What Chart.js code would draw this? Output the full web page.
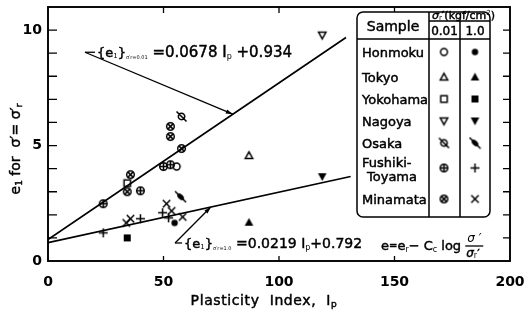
<!DOCTYPE html>
<html>
<head>
<meta charset="utf-8">
<script src="https://cdn.jsdelivr.net/npm/chart.js@4.4.1/dist/chart.umd.min.js"></script>
<style>
  html, body { margin: 0; background: #fff; }
  #wrap { width: 528px; height: 323px; }
</style>
</head>
<body>
<div id="wrap"><canvas id="chart"></canvas></div>
<script>
// e1 for sigma' = sigma'r against plasticity index, two consolidation pressures
const honmoku001 = [[55.7, 4.09]];
const honmoku10 = [[54.8, 1.65]];
const tokyo001 = [[87, 4.57]];
const tokyo10 = [[87, 1.68]];
const yokohama001 = [[34.3, 3.37]];
const yokohama10 = [[34.3, 1.0]];
const nagoya001 = [[118.7, 9.78]];
const nagoya10 = [[118.7, 3.65]];
const osaka001 = [[57.8, 6.26]];
const osaka10 = [[57.4, 2.78]];
const fushiki001 = [[23.9, 2.48], [40, 3.04], [50, 4.09], [53, 4.17]];
const fushiki10 = [[23.9, 1.22], [40, 1.83], [49.6, 2.09], [52.2, 1.87]];
const minamata001 = [[34.3, 3.0], [35.7, 3.74], [53, 5.39], [53, 5.83], [57.8, 4.87]];
const minamata10 = [[33.9, 1.65], [35.7, 1.83], [51.3, 2.48], [53.5, 2.17], [58.3, 1.91]];

const samples = ['Honmoku', 'Tokyo', 'Yokohama', 'Nagoya', 'Osaka', 'Fushiki-', 'Minamata'];
const xTicks = [0, 50, 100, 150, 200];
const yTicks = [0, 5, 10];

// regression lines: slope, intercept, last Ip drawn
const fit001 = [0.0678, 0.934, 129];
const fit10 = [0.0219, 0.792, 131];

const FONT = '"DejaVu Sans", sans-serif';

function marker(draw) {
  const c = document.createElement('canvas');
  c.width = 13; c.height = 13;
  const g = c.getContext('2d');
  g.translate(6.5, 6.5);
  g.strokeStyle = '#000'; g.fillStyle = '#000'; g.lineWidth = 1.5;
  g.beginPath();
  draw(g);
  return c;
}
const tri = (g, s, r) => { g.moveTo(0, -r * s); g.lineTo(r, 0.8 * r * s); g.lineTo(-r, 0.8 * r * s); g.closePath(); };

const mk = {
  circle: marker(g => { g.arc(0, 0, 3.4, 0, 7); g.stroke(); }),
  dot: marker(g => { g.arc(0, 0, 3.2, 0, 7); g.fill(); }),
  triangle: marker(g => { tri(g, 1, 3.7); g.stroke(); }),
  triangleFill: marker(g => { tri(g, 1, 4.3); g.fill(); }),
  square: marker(g => { g.rect(-3.2, -3.2, 6.4, 6.4); g.stroke(); }),
  squareFill: marker(g => { g.rect(-3.5, -3.5, 7, 7); g.fill(); }),
  nabla: marker(g => { tri(g, -1, 3.7); g.stroke(); }),
  nablaFill: marker(g => { tri(g, -1, 4.3); g.fill(); }),
  slashed: marker(g => { g.arc(0, 0, 3.2, 0, 7); g.moveTo(-5, -5); g.lineTo(5, 5); g.stroke(); }),
  slashedFill: marker(g => {
    g.ellipse(0, 0, 4, 2.4, Math.PI / 4, 0, 7); g.fill();
    g.beginPath(); g.moveTo(-5.5, -5.5); g.lineTo(5.5, 5.5); g.stroke();
  }),
  oplus: marker(g => { g.arc(0, 0, 3.8, 0, 7); g.moveTo(-3.8, 0); g.lineTo(3.8, 0); g.moveTo(0, -3.8); g.lineTo(0, 3.8); g.stroke(); }),
  otimes: marker(g => { g.arc(0, 0, 3.8, 0, 7); g.moveTo(-2.6, -2.6); g.lineTo(2.6, 2.6); g.moveTo(2.6, -2.6); g.lineTo(-2.6, 2.6); g.stroke(); }),
  plus: marker(g => { g.moveTo(-4.5, 0); g.lineTo(4.5, 0); g.moveTo(0, -4.5); g.lineTo(0, 4.5); g.stroke(); }),
  cross: marker(g => { g.moveTo(-3.7, -3.7); g.lineTo(3.7, 3.7); g.moveTo(3.7, -3.7); g.lineTo(-3.7, 3.7); g.stroke(); })
};

// one row per sample: [0.01 data, 0.01 marker, 1.0 data, 1.0 marker]
const rows = [
  [honmoku001, mk.circle, honmoku10, mk.dot],
  [tokyo001, mk.triangle, tokyo10, mk.triangleFill],
  [yokohama001, mk.square, yokohama10, mk.squareFill],
  [nagoya001, mk.nabla, nagoya10, mk.nablaFill],
  [osaka001, mk.slashed, osaka10, mk.slashedFill],
  [fushiki001, mk.oplus, fushiki10, mk.plus],
  [minamata001, mk.otimes, minamata10, mk.cross]
];

const pts = arr => arr.map(([x, y]) => ({ x, y }));
const fitLine = f => [{ x: 0, y: f[1] }, { x: f[2], y: f[0] * f[2] + f[1] }];

const datasets = [];
rows.forEach(r => {
  datasets.push({ data: pts(r[0]), pointStyle: r[1], pointRadius: 5 });
  datasets.push({ data: pts(r[2]), pointStyle: r[3], pointRadius: 5 });
});
[fit001, fit10].forEach(f => datasets.push({
  data: fitLine(f), showLine: true, borderColor: '#000', borderWidth: 1.7, pointRadius: 0
}));

// text runs with sub/superscripts; a thin stroke thickens the glyphs a little
function run(ctx, x, y, parts, align) {
  let w = 0;
  parts.forEach(p => { ctx.font = (p[3] || '') + p[1] + 'px ' + FONT; w += ctx.measureText(p[0]).width; });
  if (align === 'center') x -= w / 2;
  else if (align === 'right') x -= w;
  ctx.save();
  ctx.lineWidth = 0.45;
  parts.forEach(p => {
    ctx.font = (p[3] || '') + p[1] + 'px ' + FONT;
    ctx.fillText(p[0], x, y + (p[2] || 0));
    if (p[1] >= 9) ctx.strokeText(p[0], x, y + (p[2] || 0));
    x += ctx.measureText(p[0]).width;
  });
  ctx.restore();
  return x;
}

function arrow(ctx, x0, y0, x1, y1) {
  const a = Math.atan2(y1 - y0, x1 - x0);
  ctx.beginPath();
  ctx.moveTo(x0, y0); ctx.lineTo(x1, y1); ctx.stroke();
  ctx.beginPath();
  ctx.moveTo(x1, y1);
  ctx.lineTo(x1 - 7 * Math.cos(a) + 2.2 * Math.sin(a), y1 - 7 * Math.sin(a) - 2.2 * Math.cos(a));
  ctx.lineTo(x1 - 7 * Math.cos(a) - 2.2 * Math.sin(a), y1 - 7 * Math.sin(a) + 2.2 * Math.cos(a));
  ctx.closePath(); ctx.fill();
}

const decor = {
  id: 'decor',
  afterDraw(chart) {
    const ctx = chart.ctx, a = chart.chartArea;
    const X = v => chart.scales.x.getPixelForValue(v);
    const Y = v => chart.scales.y.getPixelForValue(v);
    ctx.save();
    ctx.strokeStyle = '#000'; ctx.fillStyle = '#000';
    ctx.textBaseline = 'alphabetic';

    // frame and inward ticks
    ctx.lineWidth = 1.9;
    ctx.strokeRect(a.left, a.top, a.right - a.left, a.bottom - a.top);
    ctx.lineWidth = 1.3;
    ctx.beginPath();
    for (let v = 1; v <= 10; v++) {
      ctx.moveTo(a.left, Y(v)); ctx.lineTo(a.left + 9, Y(v));
      ctx.moveTo(a.right, Y(v)); ctx.lineTo(a.right - 7, Y(v));
    }
    [50, 100, 150].forEach(v => {
      ctx.moveTo(X(v), a.bottom); ctx.lineTo(X(v), a.bottom - 5);
      ctx.moveTo(X(v), a.top); ctx.lineTo(X(v), a.top + 6);
    });
    ctx.stroke();

    // axis titles
    ctx.save();
    ctx.translate(20, 149);
    ctx.rotate(-Math.PI / 2);
    run(ctx, 0, 0, [['e', 14], ['1', 9, 2], [' for  σ′= σ′', 14], ['r', 9, 2]], 'center');
    ctx.restore();
    ctx.letterSpacing = '0.6px';
    run(ctx, 264, 305, [['Plasticity  Index,  I', 14], ['p', 9, 2]], 'center');
    ctx.letterSpacing = '0px';

    // fit equations with leaders
    ctx.lineWidth = 1.3;
    let sx = X(16), sy = Y(9.04);
    arrow(ctx, sx, sy, X(80), Y(fit001[0] * 80 + fit001[1]));
    ctx.beginPath(); ctx.moveTo(sx, sy); ctx.lineTo(sx + 10, sy); ctx.stroke();
    run(ctx, sx + 12, sy + 5, [['{e', 13], ['1', 7, 1], ['}', 13], ['σ′r=0.01', 5, 2], [' =' + fit001[0] + ' I', 15], ['p', 8, 2], [' +' + fit001[1], 15]]);

    sx = X(55); sy = Y(0.78);
    arrow(ctx, sx, sy, X(70.5), Y(fit10[0] * 70.5 + fit10[1]));
    ctx.beginPath(); ctx.moveTo(sx, sy); ctx.lineTo(sx + 7, sy); ctx.stroke();
    run(ctx, sx + 9, sy + 5, [['{e', 13], ['1', 7, 1], ['}', 13], ['σ′r=1.0', 5, 2], [' =' + fit10[0] + ' I', 14], ['p', 8, 2], ['+' + fit10[1], 14]]);

    // consolidation relation
    let fx = run(ctx, 381, 250, [['e', 13], ['=', 10, -1], ['e', 13], ['r', 8, 2], ['− C', 13], ['c', 8, 2], [' log ', 13]]);
    ctx.font = 'italic 12px ' + FONT;
    ctx.fillText('σ ′', fx + 2, 242);
    ctx.beginPath(); ctx.moveTo(fx, 246); ctx.lineTo(fx + 18, 246); ctx.stroke();
    run(ctx, fx + 1, 257, [['σ', 12, 0, 'italic '], ['r', 8, 1], ['′', 11]]);

    // symbol table
    const L = { l: 357, r: 490, t: 12, h: 39, s: 21, b: 217, c1: 429, c2: 460 };
    ctx.lineWidth = 1.5;
    ctx.fillStyle = '#fff';
    ctx.beginPath();
    ctx.roundRect(L.l, L.t, L.r - L.l, L.b - L.t, 6);
    ctx.fill(); ctx.stroke();
    ctx.fillStyle = '#000';
    ctx.beginPath();
    ctx.moveTo(L.l, L.h); ctx.lineTo(L.r, L.h);
    ctx.moveTo(L.c1, L.t); ctx.lineTo(L.c1, L.b);
    ctx.moveTo(L.c2, L.s); ctx.lineTo(L.c2, L.b);
    ctx.moveTo(L.c1, L.s); ctx.lineTo(L.r, L.s);
    ctx.stroke();
    run(ctx, (L.l + L.c1) / 2, 31, [['Sample', 14]], 'center');
    run(ctx, L.c1 + 3, 19, [['σ', 11, 0, 'italic '], ['r', 7, 1], ['′(kgf/cm', 11], ['2', 7, -4], [')', 11]]);
    run(ctx, (L.c1 + L.c2) / 2, 35, [['0.01', 12]], 'center');
    run(ctx, (L.c2 + L.r) / 2, 35, [['1.0', 12]], 'center');

    const rowY = [52, 77, 99, 121, 143, 168, 199];
    samples.forEach((s, i) => {
      if (i === 5) {
        run(ctx, 362, 167, [[s, 13]]);
        run(ctx, 367, 181, [['Toyama', 13]]);
      } else {
        run(ctx, 362, rowY[i] + 5, [[s, 13]]);
      }
      const m1 = rows[i][1], m2 = rows[i][3];
      ctx.drawImage(m1, 444 - m1.width / 2, rowY[i] - m1.height / 2);
      ctx.drawImage(m2, 475 - m2.width / 2, rowY[i] - m2.height / 2);
    });
    ctx.restore();
  }
};

const noPad = s => { s.paddingLeft = 0; s.paddingRight = 0; s.paddingTop = 0; s.paddingBottom = 0; };

new Chart(document.getElementById('chart'), {
  type: 'scatter',
  data: { datasets },
  options: {
    responsive: true,
    maintainAspectRatio: false,
    animation: false,
    layout: { padding: { top: 7, right: 18, left: 0, bottom: 0 } },
    plugins: { legend: { display: false }, tooltip: { enabled: false } },
    scales: {
      x: {
        type: 'linear', min: 0, max: 200,
        afterBuildTicks: s => { s.ticks = xTicks.map(v => ({ value: v })); },
        afterFit: s => { s.height = 62; noPad(s); },
        grid: { display: false, drawTicks: false },
        border: { display: false },
        ticks: { padding: 13, color: '#000', font: { family: FONT, size: 14, weight: 'bold' } }
      },
      y: {
        type: 'linear', min: 0, max: 11,
        afterBuildTicks: s => { s.ticks = yTicks.map(v => ({ value: v })); },
        afterFit: s => { s.width = 48; noPad(s); },
        grid: { display: false, drawTicks: false },
        border: { display: false },
        ticks: { padding: 6, color: '#000', font: { family: FONT, size: 14, weight: 'bold' } }
      }
    }
  },
  plugins: [decor]
});
</script>
</body>
</html>
